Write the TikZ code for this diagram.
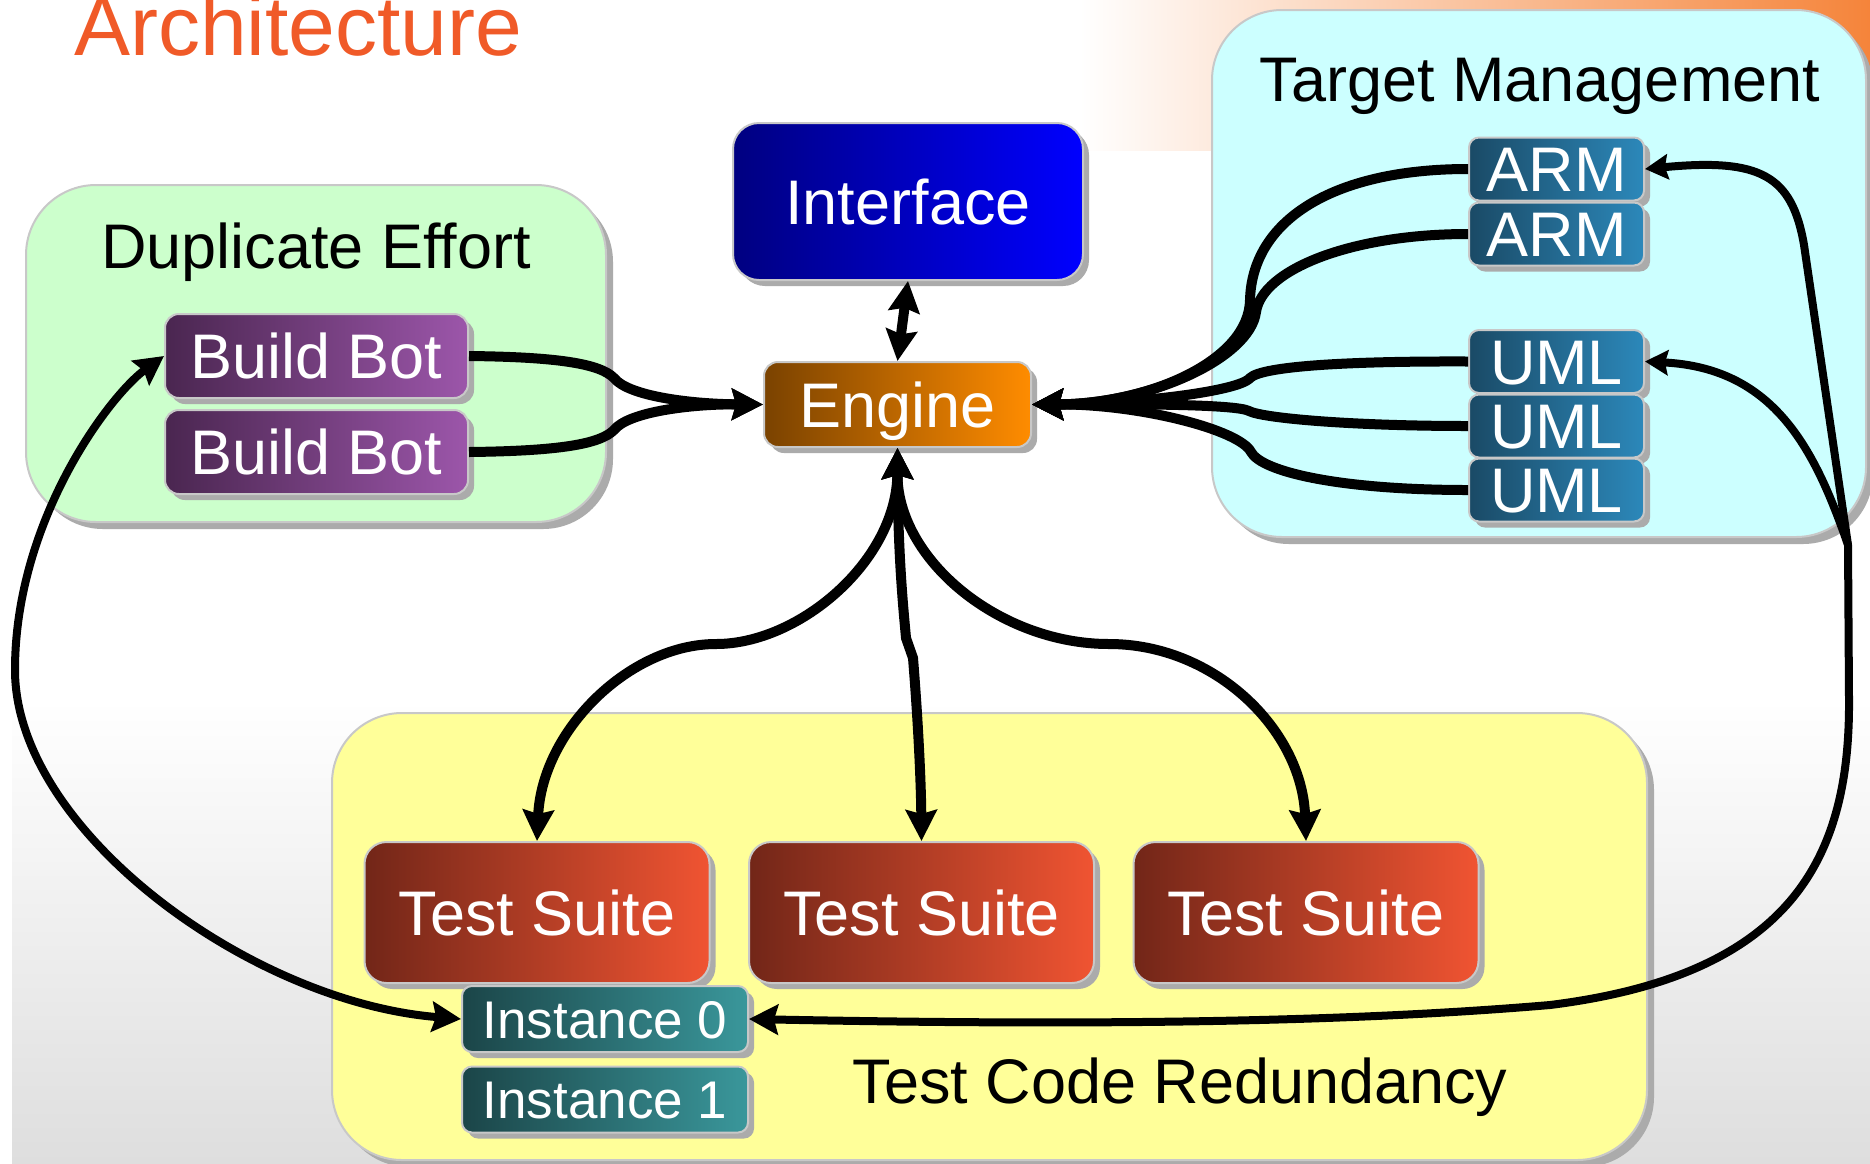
\documentclass[tikz,border=0pt]{standalone}
\usepackage{fontspec}
\setmainfont{Liberation Sans}
\usetikzlibrary{arrows.meta,shadows}
\definecolor{titlecol}{HTML}{F05A28}
\definecolor{greenbg}{HTML}{CCFFCC}
\definecolor{cyanbg}{HTML}{CCFFFF}
\definecolor{yellowbg}{HTML}{FFFF99}
\definecolor{ifL}{HTML}{000080}
\definecolor{ifR}{HTML}{0000FF}
\definecolor{enL}{HTML}{7A4200}
\definecolor{enR}{HTML}{FF8C00}
\definecolor{bbL}{HTML}{4A2650}
\definecolor{bbR}{HTML}{9C56AA}
\definecolor{tmL}{HTML}{1A4A66}
\definecolor{tmR}{HTML}{2C88BA}
\definecolor{tsL}{HTML}{722618}
\definecolor{tsR}{HTML}{F05432}
\definecolor{inL}{HTML}{1B4548}
\definecolor{inR}{HTML}{3A979B}
\definecolor{orangebg}{HTML}{F5843A}
\definecolor{graybg}{HTML}{DEDEDE}
\definecolor{shadowcol}{HTML}{ABABAB}
\definecolor{edgecol}{HTML}{C8C8C8}
\newcommand\fsbig{\fontsize{63}{70}\selectfont}
\newcommand\fssmall{\fontsize{53}{60}\selectfont}
\newcommand\fstitle{\fontsize{84}{90}\selectfont}
\begin{document}
\begin{tikzpicture}[x=1pt,y=-1pt,
  bigtip/.tip={Stealth[length=31pt,width=31pt,inset=4pt]},
  midtip/.tip={Stealth[length=29pt,width=30pt,inset=4pt]},
  smalltip/.tip={Stealth[length=23pt,width=25pt,inset=3pt]},
  box/.style={draw=edgecol, line width=2pt, inner sep=0pt, text=white, font=\fsbig,
    text height=45pt, text depth=0pt,
    general shadow={fill=shadowcol, shadow xshift=6pt, shadow yshift=-6pt},
    rounded corners=14pt},
  tmnode/.style={box, left color=tmL, right color=tmR, minimum width=175pt, minimum height=63pt, rounded corners=10pt},
  tsnode/.style={box, left color=tsL, right color=tsR, minimum width=345pt, minimum height=141pt, rounded corners=22pt},
  bbnode/.style={box, left color=bbL, right color=bbR, minimum width=303pt, minimum height=84pt},
  innode/.style={box, left color=inL, right color=inR, minimum width=286pt, minimum height=66pt, rounded corners=10pt, font=\fssmall, text height=38pt},
  group/.style={draw=edgecol, line width=2pt, inner sep=0pt,
    general shadow={fill=shadowcol, shadow xshift=7pt, shadow yshift=-7pt},
    rounded corners=70pt},
  grouplabel/.style={font=\fsbig, text=black, inner sep=0pt},
  conn/.style={draw=black, line width=10pt},
  loopline/.style={draw=black, line width=8pt},
]
\path[use as bounding box] (0,0) rectangle (1870,1163);
\clip (0,0) rectangle (1870,1163);
% background
\fill[white] (0,0) rectangle (1870,1163);
\shade[left color=white, right color=orangebg] (1080,0) rectangle (1870,150);
\shade[top color=white, bottom color=graybg] (12,700) rectangle (1870,1163);

% group boxes
\node[group, fill=greenbg, minimum width=580pt, minimum height=337pt] (dupbox) at (316,353.5) {};
\node[group, fill=cyanbg, minimum width=654pt, minimum height=527pt] (tmbox) at (1539,273.5) {};
\node[group, fill=yellowbg, minimum width=1315pt, minimum height=447pt] (tcbox) at (989.5,936.5) {};

% labels
\node[grouplabel, anchor=base] (duplabel) at (316,268) {Duplicate Effort};
\node[grouplabel, anchor=base] (tmlabel) at (1540,101) {Target Management};
\node[grouplabel, anchor=base] (tclabel) at (1180,1103) {Test Code Redundancy};
\node[font=\fstitle, text=titlecol, anchor=base west, inner sep=0pt] (title) at (74,55) {Architecture};

% nodes
\node[box, left color=ifL, right color=ifR, minimum width=350pt, minimum height=157pt, rounded corners=26pt] (iface) at (908,201.5) {Interface};
\node[box, left color=enL, right color=enR, minimum width=267pt, minimum height=85pt] (engine) at (897.5,404.5) {Engine};
\node[bbnode] (bb1) at (316.5,356) {Build Bot};
\node[bbnode] (bb2) at (316.5,452) {Build Bot};
\node[tmnode] (arm1) at (1556.5,169) {ARM};
\node[tmnode] (arm2) at (1556.5,234) {ARM};
\node[tmnode] (uml1) at (1556.5,361.5) {UML};
\node[tmnode] (uml2) at (1556.5,426) {UML};
\node[tmnode] (uml3) at (1556.5,490) {UML};
\node[tsnode] (ts1) at (537,912.5) {Test Suite};
\node[tsnode] (ts2) at (921.5,912.5) {Test Suite};
\node[tsnode] (ts3) at (1306,912.5) {Test Suite};
\node[innode] (inst0) at (605,1019) {Instance 0};
\node[innode] (inst1) at (605,1099.5) {Instance 1};

% connectors
\draw[conn, bigtip-bigtip] (iface.south) -- (engine.north);

\draw[conn, -bigtip] (bb1.east) .. controls (560,357) and (600,364) .. (614,378) .. controls (628,396) and (690,404) .. (engine.west);
\draw[conn, -bigtip] (bb2.east) .. controls (560,451) and (600,444) .. (614,430) .. controls (628,412) and (690,404) .. (engine.west);

\draw[conn, -bigtip] (arm1.west) .. controls (1330,169) and (1252,222) .. (1250,300) .. controls (1249,360) and (1150,404) .. (engine.east);
\draw[conn, -bigtip] (arm2.west) .. controls (1350,234) and (1262,270) .. (1256,312) .. controls (1250,358) and (1150,404) .. (engine.east);
\draw[conn, -bigtip] (uml1.west) .. controls (1350,361) and (1262,366) .. (1250,378) .. controls (1238,392) and (1130,404) .. (engine.east);
\draw[conn, -bigtip] (uml2.west) .. controls (1350,426) and (1262,418) .. (1249,411) .. controls (1236,404) and (1130,404) .. (engine.east);
\draw[conn, -bigtip] (uml3.west) .. controls (1340,490) and (1262,472) .. (1251,452) .. controls (1240,430) and (1140,404) .. (engine.east);

\draw[conn, bigtip-bigtip] (engine.south) .. controls (897,560) and (800,644) .. (716,644) .. controls (630,644) and (542,730) .. (ts1.north);
\draw[conn, bigtip-bigtip] (engine.south) .. controls (898,560) and (904,615) .. (906,638) -- (913,658) .. controls (918,720) and (921,780) .. (ts2.north);
\draw[conn, bigtip-bigtip] (engine.south) .. controls (897,560) and (1000,644) .. (1109,644) .. controls (1215,644) and (1302,730) .. (ts3.north);

\draw[loopline, midtip-midtip] (bb1.west) .. controls (110,395) and (15,520) .. (15,670) .. controls (15,830) and (250,1002) .. (inst0.west);

\coordinate (merge) at (1848,545);
\draw[loopline, midtip-smalltip] (inst0.east) .. controls (1100,1026) and (1350,1022) .. (1550,1005) .. controls (1790,975) and (1850,860) .. (1849,700) -- (merge) -- (1804,245) .. controls (1792,175) and (1760,158) .. (arm1.east);
\draw[loopline, -smalltip] (merge) .. controls (1815,450) and (1775,368) .. (uml1.east);
\end{tikzpicture}
\end{document}
